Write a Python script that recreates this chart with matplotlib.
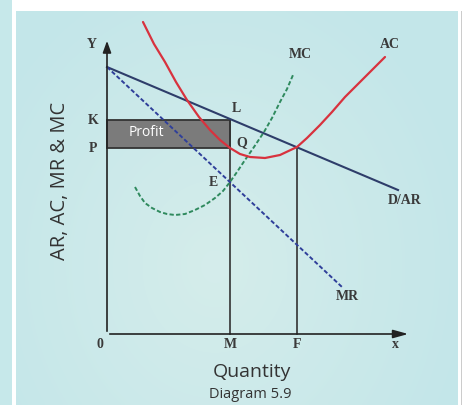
import matplotlib
matplotlib.use("Agg")
import matplotlib.pyplot as plt
import numpy as np
from matplotlib.patches import Rectangle

# ---- data (quantity, price) ----
ar_q = [0, 291]
ar_p = [267, 144]
mr_q = [0, 235]
mr_p = [267, 47]
ac_q = [36, 47, 58, 69, 80, 92, 103, 113, 123, 133, 143, 158, 173, 190, 200, 213, 225, 238, 258, 278]
ac_p = [312, 290, 272, 252, 234, 217, 204, 194, 186, 180, 177, 176, 179, 187, 196, 209, 222, 237, 257, 277]
mc_q = [28, 33, 38, 45, 53, 60, 68, 78, 88, 98, 108, 116, 123, 130, 138, 147, 157, 165, 173, 180, 186]
mc_p = [147, 138, 131, 126, 122, 120, 119, 120, 124, 129, 136, 143, 152, 162, 174, 187, 202, 216, 232, 245, 259]
q_M, q_F = 123, 190
p_K, p_P = 214, 186
p_L = 214
p_F = 187

serif = ["Liberation Serif", "DejaVu Serif"]
sans = ["Open Sans", "DejaVu Sans"]
lab_col = "#3a3a3a"

fig = plt.figure(figsize=(4.64, 4.05), dpi=100)
fig.patch.set_facecolor("white")
ax = fig.add_axes([0, 0, 1, 1])
ax.set_xlim(-107, 357)
ax.set_ylim(-71, 334)
ax.axis("off")

# background panels
ax.add_patch(Rectangle((-107, -71), 12, 405, facecolor="#c6e8ea", edgecolor="none", zorder=0))
# soft gradient panel: lighter toward the centre-bottom
gx = np.linspace(0, 1, 120)
gy = np.linspace(0, 1, 120)
GX, GY = np.meshgrid(gx, gy)
d = np.sqrt(((GX - 0.45) / 0.6) ** 2 + ((GY - 0.35) / 0.8) ** 2)
t = np.clip(d, 0, 1)
c_in = np.array([0.835, 0.929, 0.922])
c_out = np.array([0.765, 0.902, 0.914])
img = c_in[None, None, :] * (1 - t[..., None]) + c_out[None, None, :] * t[..., None]
ax.imshow(img, extent=(-91, 351, -71, 323), origin="lower", aspect="auto",
          zorder=0, interpolation="bilinear")
ax.add_patch(Rectangle((354, -71), 1.2, 394, facecolor="#cccccc", edgecolor="none", zorder=0))
ax.set_xlim(-107, 357)
ax.set_ylim(-71, 334)

# profit rectangle
ax.add_patch(Rectangle((0, p_P), q_M, p_K - p_P, facecolor="#7b7b7b",
                       edgecolor="#333333", linewidth=1.3, zorder=2))
ax.text(22, (p_K + p_P) / 2 + 2, "Profit", color="white", fontsize=10,
        family=sans, va="center", ha="left", zorder=3)

# axes
ax.annotate("", xy=(0, 296), xytext=(0, 0),
            arrowprops=dict(arrowstyle="-|>,head_width=0.25,head_length=0.7",
                            color="#222222", lw=1.2), zorder=4)
ax.annotate("", xy=(304, 0), xytext=(0, 0),
            arrowprops=dict(arrowstyle="-|>,head_width=0.25,head_length=0.9",
                            color="#222222", lw=1.2), zorder=4)

# vertical drop lines
ax.plot([q_M, q_M], [0, p_L], color="#333333", lw=1.2, zorder=3)
ax.plot([q_F, q_F], [0, p_F], color="#333333", lw=1.2, zorder=3)

# curves
ax.plot(ar_q, ar_p, color="#2e3d6a", lw=1.5, zorder=3)
ax.plot(mr_q, mr_p, color="#2f3f9a", lw=1.4, ls=(0, (2.2, 1.2)), zorder=3)
ax.plot(mc_q, mc_p, color="#2f8a5e", lw=1.4, ls=(0, (2.2, 1.2)), zorder=3)
ax.plot(ac_q, ac_p, color="#d8323e", lw=1.6, zorder=3, solid_capstyle="round",
        solid_joinstyle="round")

# point labels
def lab(x, y, s, ha="center"):
    ax.text(x, y, s, fontsize=10, family=serif, color=lab_col, ha=ha, va="center",
            fontweight="bold")

lab(-15, 290, "Y")
lab(-14, p_K, "K")
lab(-14, p_P, "P")
lab(129, 226, "L")
lab(135, 191, "Q")
lab(106, 151, "E")
lab(193, 279, "MC")
lab(283, 289, "AC")
lab(298, 134, "D/AR")
lab(240, 37, "MR")
lab(-7, -11, "0")
lab(q_M, -11, "M")
lab(q_F, -11, "F")
lab(288, -11, "x")

ax.text(145, -38, "Quantity", fontsize=14, family=sans, color="#333333",
        ha="center", va="center")
ax.text(143, -61, "Diagram 5.9", fontsize=10.5, family=sans, color="#333333",
        ha="center", va="center")
ax.text(-47, 153, "AR, AC, MR & MC", fontsize=14.5, family=sans, color="#333333",
        ha="center", va="center", rotation=90)

fig.savefig("out.png", dpi=100, facecolor="white")
